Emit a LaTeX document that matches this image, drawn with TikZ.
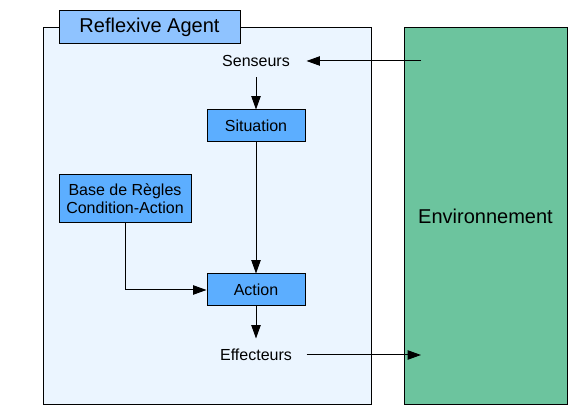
\documentclass[tikz,border=0pt]{standalone}
\usepackage{fontspec}
\setmainfont{Liberation Sans}
\usetikzlibrary{arrows.meta}

\definecolor{agentbg}{HTML}{EBF5FF}
\definecolor{titlebg}{HTML}{8FC3FF}
\definecolor{boxblue}{HTML}{5CAEFF}
\definecolor{envgreen}{HTML}{6CC49E}

\begin{document}
\begin{tikzpicture}[x=0.75pt, y=-0.75pt, line width=0.75pt,
    font=\fontsize{12}{13.5}\selectfont,
    box/.style={draw, fill=boxblue, inner sep=0, minimum width=73.5pt, minimum height=24pt},
    lbl/.style={inner sep=0, minimum width=75pt, minimum height=24pt},
    arr/.style={-{Triangle[length=10pt, width=7pt]}}]
    \useasboundingbox (0,0) rectangle (586,409);
    % agent and environment
    \node[draw, fill=agentbg, inner sep=0, minimum width=246pt, minimum height=282.75pt] (agent) at (207,216.5) {};
    \node[draw, fill=titlebg, inner sep=0, minimum width=135.75pt, minimum height=24.75pt,
        font=\fontsize{15}{18}\selectfont] (title) at (149.5,27.5) {Reflexive Agent};
    \node[draw, fill=envgreen, inner sep=0, minimum width=122.25pt, minimum height=282.75pt,
        font=\fontsize{15}{18}\selectfont] (env) at (485.5,216.5) {Environnement};
    % inside the agent
    \node[lbl] (senseurs) at (256,61) {Senseurs};
    \node[box] (situation) at (256,126) {Situation};
    \node[box, minimum width=99pt, minimum height=36pt, align=center] (regles) at (125,199) {Base de Règles\\Condition-Action};
    \node[box] (action) at (256,290) {Action};
    \node[lbl] (effecteurs) at (256,355) {Effecteurs};
    \coordinate (senv) at (421,61);
    \coordinate (eenv) at (421,355);
    % arrows
    \draw[arr] (senv) -- (senseurs.east);
    \draw[arr] (senseurs.south) -- (situation.north);
    \draw[arr] (situation.south) -- (action.north);
    \draw[arr] (regles.south) |- (action.west);
    \draw[arr] (action.south) -- (effecteurs.north);
    \draw[arr] (effecteurs.east) -- (eenv);
\end{tikzpicture}
\end{document}
